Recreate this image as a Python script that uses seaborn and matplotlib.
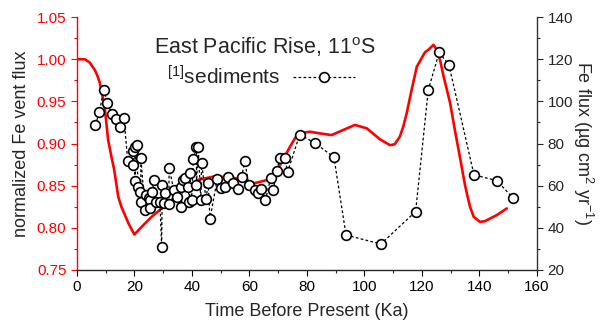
import numpy as np
import pandas as pd
import matplotlib
matplotlib.use("Agg")
import matplotlib.pyplot as plt
import seaborn as sns

# ── data ────────────────────────────────────────────────────
# red curve: normalized Fe vent flux (left axis)
vent_age = [0, 2.8, 4.5, 6.3, 7.2, 8.0, 9.7, 10.9, 12.0, 13.0, 14.4, 15.5, 18.0,
            20.0, 22.5, 26.0, 29.5, 32.9, 37.6, 42.2, 48.0, 55.0, 61.9, 66.5, 70.6,
            74.1, 76.0, 77.6, 81.0, 84.5, 88.6, 92.6, 96.7, 100.8, 105.4, 108.9,
            110.5, 112.3, 113.5, 114.7, 116.5, 118.2, 121.0, 122.5, 124.0, 125.0,
            126.3, 127.5, 129.8, 131.5, 133.2, 135.0, 136.7, 138.0, 140.2, 142.0,
            143.7, 146.0, 149.5]
vent_flux = [1.000, 1.000, 0.996, 0.987, 0.980, 0.972, 0.943, 0.904, 0.885, 0.869,
             0.837, 0.825, 0.805, 0.792, 0.801, 0.813, 0.823, 0.833, 0.847, 0.857,
             0.861, 0.859, 0.853, 0.857, 0.874, 0.896, 0.907, 0.912, 0.914, 0.912,
             0.910, 0.916, 0.922, 0.918, 0.905, 0.898, 0.899, 0.908, 0.920, 0.936,
             0.965, 0.991, 1.008, 1.012, 1.017, 1.012, 0.999, 0.980, 0.948, 0.915,
             0.884, 0.850, 0.825, 0.813, 0.807, 0.808, 0.811, 0.815, 0.823]

# open circles: sediment Fe flux (right axis)
sed_age = [6.5, 7.8, 9.4, 10.6, 12.2, 13.6, 15.0, 16.4, 17.7, 19.6, 19.7, 20.2, 20.2,
           20.8, 21.3, 21.9, 22.2, 22.3, 23.7, 24.2, 25.0, 25.4, 25.4, 26.3, 26.8,
           27.7, 28.9, 29.5, 29.7, 30.4, 30.6, 32.0, 32.1, 33.7, 34.9, 36.1, 36.4,
           37.0, 37.6, 38.7, 39.1, 39.3, 39.9, 40.5, 41.6, 41.6, 42.2, 43.1, 43.4,
           44.9, 45.7, 46.3, 48.8, 50.3, 51.5, 52.6, 54.4, 56.1, 57.3, 58.4, 59.8,
           61.9, 62.9, 64.2, 65.6, 67.4, 68.3, 69.5, 70.6, 72.3, 73.3, 77.5, 82.8,
           89.4, 93.6, 105.7, 117.8, 122.2, 126.0, 129.4, 138.1, 146.0, 151.8]
sed_flux = [88.9, 94.8, 105.4, 99.4, 93.9, 91.6, 87.7, 92.1, 71.9, 70.0, 76.4, 78.5,
            62.4, 79.1, 59.5, 57.1, 52.4, 72.9, 48.5, 55.6, 54.1, 53.2, 49.4, 57.1,
            62.7, 52.4, 52.4, 31.0, 60.3, 51.9, 56.5, 51.2, 68.6, 57.9, 54.8, 59.5,
            50.0, 62.7, 63.5, 59.5, 52.4, 66.0, 53.2, 72.5, 78.5, 60.2, 78.5, 53.2,
            70.9, 53.5, 61.1, 44.0, 63.0, 58.8, 59.5, 64.3, 61.1, 58.3, 64.0, 71.8,
            60.3, 57.9, 56.4, 58.3, 53.2, 63.5, 57.9, 67.0, 73.0, 73.0, 66.6, 84.2,
            80.2, 73.5, 36.6, 32.3, 47.7, 105.4, 123.3, 117.2, 65.1, 62.4, 54.0]

vent_df = pd.DataFrame({"age": vent_age, "flux": vent_flux})
sed_df = pd.DataFrame({"age": sed_age, "flux": sed_flux})

sns.set_style("ticks")
plt.rcParams["font.family"] = ["Liberation Sans", "DejaVu Sans"]
plt.rcParams["mathtext.fontset"] = "custom"
plt.rcParams["mathtext.rm"] = "Liberation Sans"
plt.rcParams["mathtext.it"] = "Liberation Sans"

fig = plt.figure(figsize=(6.0, 3.28), dpi=100)
ax = fig.add_axes([0.128, 0.177, 0.767, 0.771])
ax2 = ax.twinx()

# ── red vent flux curve ─────────────────────────────────────
sns.lineplot(data=vent_df, x="age", y="flux", ax=ax, color="#ff0000",
             linewidth=1.9, sort=False, estimator=None)
ax.get_lines()[0].set_solid_joinstyle("round")

# ── sediment flux points ────────────────────────────────────
sns.lineplot(data=sed_df, x="age", y="flux", ax=ax2, color="black",
             linewidth=0.9, dashes=False, sort=False, estimator=None,
             label=r"$^{[1]}$sediments")
line = ax2.get_lines()[0]
line.set_linestyle((0, (2.2, 1.8)))
line.set_marker("o")
line.set_markersize(7.0)
line.set_markerfacecolor("white")
line.set_markeredgecolor("black")
line.set_markeredgewidth(1.2)

# axes limits / ticks
ax.set_xlim(0, 160)
ax.set_ylim(0.75, 1.05)
ax2.set_ylim(20, 140)
ax.set_xticks(np.arange(0, 161, 20))
ax.set_xticks(np.arange(0, 161, 10), minor=True)
ax.set_yticks(np.arange(0.75, 1.051, 0.05))
ax.set_yticks(np.arange(0.75, 1.051, 0.025), minor=True)
ax2.set_yticks(np.arange(20, 141, 20))
ax2.set_yticks(np.arange(20, 141, 10), minor=True)
ax.set_yticklabels([f"{v:.2f}" for v in np.arange(0.75, 1.051, 0.05)])

ax.tick_params(axis="x", which="major", length=4, width=0.8, labelsize=11, colors="black")
ax.tick_params(axis="x", which="minor", length=2.5, width=0.8)
ax.tick_params(axis="y", which="major", length=4, width=0.8, labelsize=11,
               colors="#ff0000", labelcolor="#ff0000")
ax.tick_params(axis="y", which="minor", length=2.5, width=0.8, colors="#ff0000")
ax2.tick_params(axis="y", which="major", length=4, width=0.8, labelsize=11)
ax2.tick_params(axis="y", which="minor", length=2.5, width=0.8)

for a in (ax, ax2):
    a.spines["top"].set_visible(False)
ax.spines["right"].set_visible(False)
ax2.spines["left"].set_visible(False)
ax2.spines["bottom"].set_visible(False)
ax.spines["left"].set_color("#ff0000")
ax.spines["left"].set_linewidth(1.0)
ax2.spines["right"].set_color("#333333")
ax2.spines["right"].set_linewidth(1.0)
ax.spines["bottom"].set_linewidth(1.0)

ax.set_xlabel("Time Before Present (Ka)", fontsize=13, labelpad=6)
ax.set_ylabel("normalized Fe vent flux", fontsize=13, labelpad=5)
ax2.set_ylabel(r"Fe flux (µg cm$^{2}$ yr$^{-1}$)", fontsize=13, rotation=-90,
               labelpad=16)

fig.text(0.441, 0.857, r"East Pacific Rise, 11$^{\mathrm{o}}$S", fontsize=15.5,
         ha="center", va="center")
ax2.legend(loc="center", bbox_to_anchor=(0.435, 0.765), bbox_transform=fig.transFigure,
           frameon=False, markerfirst=False, fontsize=15, handlelength=3.0,
           handletextpad=0.6, borderpad=0)

fig.savefig("out.png", dpi=100)
